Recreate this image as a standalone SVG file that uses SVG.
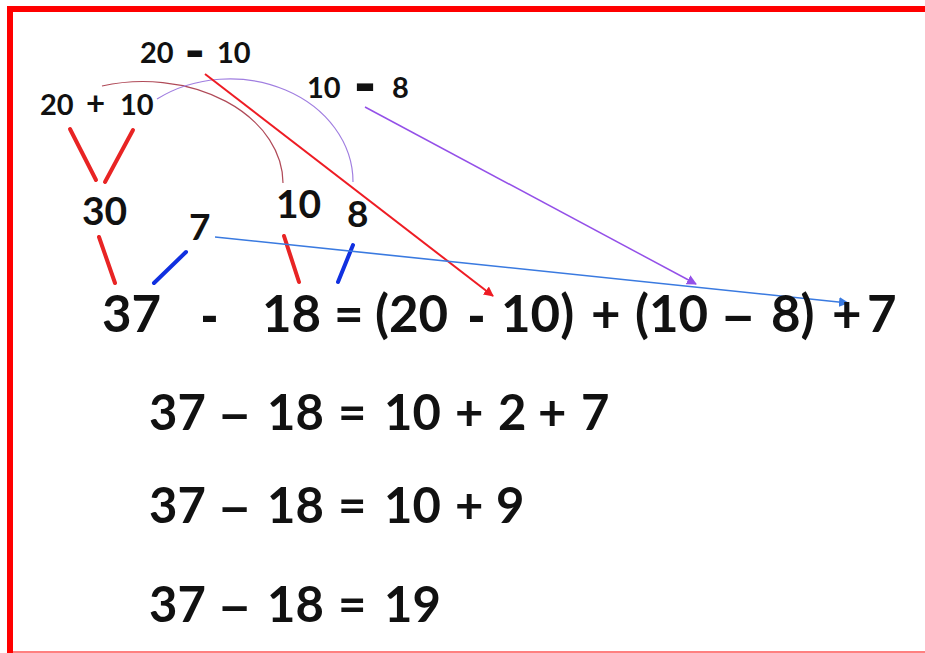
<svg xmlns="http://www.w3.org/2000/svg" width="925" height="653" viewBox="0 0 925 653">
<defs>
<style>
.t{font-family:Lato,"Open Sans","Liberation Sans",sans-serif;font-weight:700;fill:#111}
.bar{font-family:"DejaVu Sans",sans-serif;font-weight:700}
.d{font-family:"Liberation Sans",Arial,sans-serif;font-weight:700}
.rt{stroke:#e82424;stroke-width:4;stroke-linecap:round}
.bt{stroke:#1030e0;stroke-width:4;stroke-linecap:round}
</style>
<marker id="ar" viewBox="0 0 10 10" refX="9" refY="5" markerWidth="10" markerHeight="10" markerUnits="userSpaceOnUse" orient="auto"><path d="M0,0L10,5L0,10z" fill="#ee1c24"/></marker>
<marker id="ap" viewBox="0 0 10 10" refX="9" refY="5" markerWidth="10" markerHeight="10" markerUnits="userSpaceOnUse" orient="auto"><path d="M0,0L10,5L0,10z" fill="#9450e8"/></marker>
<marker id="ab" viewBox="0 0 10 10" refX="9" refY="5" markerWidth="10" markerHeight="10" markerUnits="userSpaceOnUse" orient="auto"><path d="M0,0L10,5L0,10z" fill="#3a7ae0"/></marker>
</defs>
<rect width="925" height="653" fill="#fff"/>
<g id="frame">
<rect x="7" y="6" width="918" height="6" fill="#ff0000"/>
<rect x="7" y="6" width="6" height="647" fill="#ff0000"/>
<rect x="13" y="651" width="912" height="2" fill="#ff8080"/>
</g>
<g id="connectors" fill="none">
<path d="M102,86 A140,102 0 0 1 283,183" stroke="#b04a58" stroke-width="1.2"/>
<path d="M157,99 A123,103 0 0 1 353,182" stroke="#a07ee0" stroke-width="1.2"/>
<line class="rt" x1="70" y1="129" x2="96" y2="180"/>
<line class="rt" x1="133" y1="130" x2="105" y2="182"/>
<line class="rt" x1="99" y1="237" x2="115" y2="283"/>
<line class="rt" x1="284" y1="236" x2="299" y2="282"/>
<line class="bt" x1="186" y1="252" x2="154" y2="283"/>
<line class="bt" x1="353" y1="245" x2="338" y2="282"/>
<line x1="205" y1="74" x2="493" y2="296" stroke="#ee1c24" stroke-width="2" marker-end="url(#ar)"/>
<line x1="365" y1="107" x2="696" y2="284" stroke="#9450e8" stroke-width="1.5" marker-end="url(#ap)"/>
<line x1="215" y1="237" x2="848" y2="303" stroke="#3a7ae0" stroke-width="1.6" marker-end="url(#ab)"/>
</g>
<g id="label-20-minus-10"><text class="t" y="63" font-size="29"><tspan x="140">20</tspan><tspan class="bar" x="185" y="67" font-size="47">-</tspan><tspan x="217" y="63">10</tspan></text></g>
<g id="label-20-plus-10"><text class="t" y="115" font-size="29"><tspan x="40">20</tspan><tspan x="86" font-size="33">+</tspan><tspan x="120">10</tspan></text></g>
<g id="label-10-minus-8"><text class="t" y="98" font-size="29"><tspan x="307">10</tspan><tspan class="bar" x="354" y="103" font-size="53">-</tspan><tspan x="392" y="98">8</tspan></text></g>
<g id="n30"><text class="t" x="82" y="225" font-size="39">30</text></g>
<g id="n7"><text class="t" x="189" y="240" font-size="37">7</text></g>
<g id="n10"><text class="t" x="276" y="218" font-size="39">10</text></g>
<g id="n8"><text class="t" x="347" y="227" font-size="37">8</text></g>
<g id="line1"><text class="t" y="332" font-size="51"><tspan x="102">37</tspan><tspan class="d" x="201">-</tspan><tspan x="262">18</tspan><tspan x="334">=</tspan><tspan x="375">(20</tspan><tspan class="d" x="468">-</tspan><tspan x="501">10)</tspan><tspan x="591">+</tspan><tspan x="635">(10</tspan><tspan class="d" x="724">–</tspan><tspan x="771">8)</tspan><tspan x="832">+</tspan><tspan x="867">7</tspan></text></g>
<g id="line2"><text class="t" y="430" font-size="49"><tspan x="149">37</tspan><tspan class="d" x="221">–</tspan><tspan x="267">18</tspan><tspan x="338">=</tspan><tspan x="384">10</tspan><tspan x="455">+</tspan><tspan x="498">2</tspan><tspan x="538">+</tspan><tspan x="581">7</tspan></text></g>
<g id="line3"><text class="t" y="523" font-size="49"><tspan x="149">37</tspan><tspan class="d" x="221">–</tspan><tspan x="267">18</tspan><tspan x="338">=</tspan><tspan x="384">10</tspan><tspan x="455">+</tspan><tspan x="496">9</tspan></text></g>
<g id="line4"><text class="t" y="622" font-size="49"><tspan x="149">37</tspan><tspan class="d" x="221">–</tspan><tspan x="267">18</tspan><tspan x="338">=</tspan><tspan x="384">19</tspan></text></g>
</svg>
